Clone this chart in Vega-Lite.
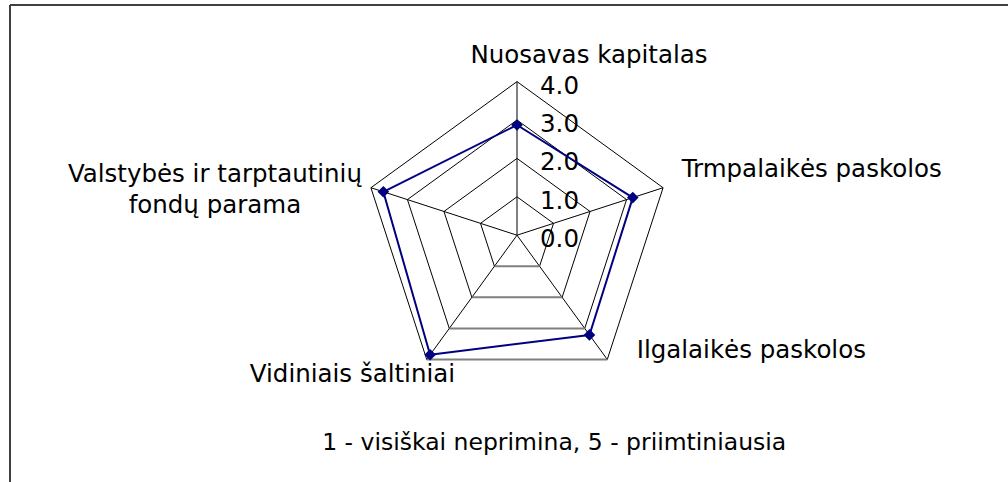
{
  "$schema": "https://vega.github.io/schema/vega-lite/v6.json",
  "width": 998,
  "height": 477,
  "autosize": {"type": "none"},
  "padding": {"left": 10, "top": 5, "right": 0, "bottom": 0},
  "background": "white",
  "config": {
    "view": {"stroke": null},
    "text": {"font": "DejaVu Sans", "fontSize": 24.5, "color": "#000000"}
  },
  "datasets": {
    "series": [
      {"kategorija": "Nuosavas kapitalas", "idx": 0, "vertinimas": 2.87},
      {"kategorija": "Trmpalaikės paskolos", "idx": 1, "vertinimas": 3.17},
      {"kategorija": "Ilgalaikės paskolos", "idx": 2, "vertinimas": 3.21},
      {"kategorija": "Vidiniais šaltiniai", "idx": 3, "vertinimas": 3.85},
      {"kategorija": "Valstybės ir tarptautinių fondų parama", "idx": 4, "vertinimas": 3.66}
    ],
    "levels": [
      {"lygis": 0}, {"lygis": 1}, {"lygis": 2}, {"lygis": 3}, {"lygis": 4}
    ],
    "grid": [
      {"lygis": 1, "idx": 0}, {"lygis": 1, "idx": 1}, {"lygis": 1, "idx": 2}, {"lygis": 1, "idx": 3}, {"lygis": 1, "idx": 4},
      {"lygis": 2, "idx": 0}, {"lygis": 2, "idx": 1}, {"lygis": 2, "idx": 2}, {"lygis": 2, "idx": 3}, {"lygis": 2, "idx": 4},
      {"lygis": 3, "idx": 0}, {"lygis": 3, "idx": 1}, {"lygis": 3, "idx": 2}, {"lygis": 3, "idx": 3}, {"lygis": 3, "idx": 4},
      {"lygis": 4, "idx": 0}, {"lygis": 4, "idx": 1}, {"lygis": 4, "idx": 2}, {"lygis": 4, "idx": 3}, {"lygis": 4, "idx": 4}
    ],
    "note": [
      {"tekstas": "1 - visiškai neprimina, 5 - priimtiniausia"}
    ]
  },
  "layer": [
    {
      "data": {"values": [{"krastas": "kairė"}]},
      "mark": {"type": "rule", "color": "#404040", "strokeWidth": 2},
      "encoding": {
        "x": {"datum": -13.203, "type": "quantitative", "scale": {"domain": [-13.203, 12.786], "nice": false, "zero": false}, "axis": null},
        "y": {"datum": -6.427, "type": "quantitative", "scale": {"domain": [-6.427, 5.995], "nice": false, "zero": false}, "axis": null},
        "y2": {"datum": 5.995}
      }
    },
    {
      "data": {"values": [{"krastas": "viršus"}]},
      "mark": {"type": "rule", "color": "#404040", "strokeWidth": 2},
      "encoding": {
        "x": {"datum": -13.203, "type": "quantitative", "scale": {"domain": [-13.203, 12.786], "nice": false, "zero": false}, "axis": null},
        "x2": {"datum": 12.786},
        "y": {"datum": 5.995, "type": "quantitative", "scale": {"domain": [-6.427, 5.995], "nice": false, "zero": false}, "axis": null}
      }
    },
    {
      "data": {"name": "series"},
      "transform": [
        {"calculate": "PI/2 - datum.idx*2*PI/5", "as": "a"},
        {"calculate": "4*cos(datum.a)", "as": "px"},
        {"calculate": "4*sin(datum.a)", "as": "py"}
      ],
      "mark": {"type": "rule", "color": "#000000", "strokeWidth": 1},
      "encoding": {
        "x": {"field": "px", "type": "quantitative", "scale": {"domain": [-13.203, 12.786], "nice": false, "zero": false}, "axis": null},
        "y": {"field": "py", "type": "quantitative", "scale": {"domain": [-6.427, 5.995], "nice": false, "zero": false}, "axis": null},
        "x2": {"datum": 0},
        "y2": {"datum": 0}
      }
    },
    {
      "data": {"name": "grid"},
      "transform": [
        {"calculate": "PI/2 - datum.idx*2*PI/5", "as": "a"},
        {"calculate": "datum.a - 2*PI/5", "as": "b"},
        {"calculate": "datum.lygis*cos(datum.a)", "as": "px"},
        {"calculate": "datum.lygis*sin(datum.a)", "as": "py"},
        {"calculate": "datum.lygis*cos(datum.b)", "as": "px2"},
        {"calculate": "datum.lygis*sin(datum.b)", "as": "py2"}
      ],
      "mark": {"type": "rule"},
      "encoding": {
        "x": {"field": "px", "type": "quantitative", "scale": {"domain": [-13.203, 12.786], "nice": false, "zero": false}, "axis": null},
        "y": {"field": "py", "type": "quantitative", "scale": {"domain": [-6.427, 5.995], "nice": false, "zero": false}, "axis": null},
        "x2": {"field": "px2"},
        "y2": {"field": "py2"},
        "color": {"condition": {"test": "datum.idx === 2", "value": "#7f7f7f"}, "value": "#000000"},
        "strokeWidth": {"condition": {"test": "datum.idx === 2", "value": 2}, "value": 1}
      }
    },
    {
      "data": {"name": "levels"},
      "mark": {"type": "text", "align": "left", "baseline": "alphabetic", "dx": 23, "dy": 12},
      "encoding": {
        "x": {"datum": 0, "type": "quantitative", "scale": {"domain": [-13.203, 12.786], "nice": false, "zero": false}, "axis": null},
        "y": {"field": "lygis", "type": "quantitative", "scale": {"domain": [-6.427, 5.995], "nice": false, "zero": false}, "axis": null},
        "text": {"field": "lygis", "type": "quantitative", "format": ".1f"}
      }
    },
    {
      "data": {"name": "series"},
      "transform": [
        {"window": [{"op": "lead", "field": "vertinimas", "as": "kitas"}, {"op": "first_value", "field": "vertinimas", "as": "pirmas"}], "sort": [{"field": "idx"}], "frame": [null, null]},
        {"calculate": "isValid(datum.kitas) ? datum.kitas : datum.pirmas", "as": "nv"},
        {"calculate": "PI/2 - datum.idx*2*PI/5", "as": "a"},
        {"calculate": "datum.a - 2*PI/5", "as": "b"},
        {"calculate": "datum.vertinimas*cos(datum.a)", "as": "px"},
        {"calculate": "datum.vertinimas*sin(datum.a)", "as": "py"},
        {"calculate": "datum.nv*cos(datum.b)", "as": "px2"},
        {"calculate": "datum.nv*sin(datum.b)", "as": "py2"}
      ],
      "mark": {"type": "rule", "color": "#000080", "strokeWidth": 2, "strokeCap": "round"},
      "encoding": {
        "x": {"field": "px", "type": "quantitative", "scale": {"domain": [-13.203, 12.786], "nice": false, "zero": false}, "axis": null},
        "y": {"field": "py", "type": "quantitative", "scale": {"domain": [-6.427, 5.995], "nice": false, "zero": false}, "axis": null},
        "x2": {"field": "px2"},
        "y2": {"field": "py2"}
      }
    },
    {
      "data": {"name": "series"},
      "transform": [
        {"calculate": "PI/2 - datum.idx*2*PI/5", "as": "a"},
        {"calculate": "datum.vertinimas*cos(datum.a)", "as": "px"},
        {"calculate": "datum.vertinimas*sin(datum.a)", "as": "py"}
      ],
      "mark": {"type": "point", "shape": "diamond", "filled": true, "size": 135, "color": "#000080", "opacity": 1},
      "encoding": {
        "x": {"field": "px", "type": "quantitative", "scale": {"domain": [-13.203, 12.786], "nice": false, "zero": false}, "axis": null},
        "y": {"field": "py", "type": "quantitative", "scale": {"domain": [-6.427, 5.995], "nice": false, "zero": false}, "axis": null}
      }
    },
    {
      "data": {"name": "series"},
      "transform": [
        {"filter": "datum.idx === 0"},
        {"calculate": "4*cos(PI/2 - datum.idx*2*PI/5)", "as": "px"},
        {"calculate": "4*sin(PI/2 - datum.idx*2*PI/5)", "as": "py"}
      ],
      "mark": {"type": "text", "align": "center", "baseline": "alphabetic", "dx": 72, "dy": -19},
      "encoding": {
        "x": {"field": "px", "type": "quantitative", "scale": {"domain": [-13.203, 12.786], "nice": false, "zero": false}, "axis": null},
        "y": {"field": "py", "type": "quantitative", "scale": {"domain": [-6.427, 5.995], "nice": false, "zero": false}, "axis": null},
        "text": {"field": "kategorija"}
      }
    },
    {
      "data": {"name": "series"},
      "transform": [
        {"filter": "datum.idx === 1"},
        {"calculate": "4*cos(PI/2 - datum.idx*2*PI/5)", "as": "px"},
        {"calculate": "4*sin(PI/2 - datum.idx*2*PI/5)", "as": "py"}
      ],
      "mark": {"type": "text", "align": "left", "baseline": "alphabetic", "dx": 18.6, "dy": -11},
      "encoding": {
        "x": {"field": "px", "type": "quantitative", "scale": {"domain": [-13.203, 12.786], "nice": false, "zero": false}, "axis": null},
        "y": {"field": "py", "type": "quantitative", "scale": {"domain": [-6.427, 5.995], "nice": false, "zero": false}, "axis": null},
        "text": {"field": "kategorija"}
      }
    },
    {
      "data": {"name": "series"},
      "transform": [
        {"filter": "datum.idx === 2"},
        {"calculate": "4*cos(PI/2 - datum.idx*2*PI/5)", "as": "px"},
        {"calculate": "4*sin(PI/2 - datum.idx*2*PI/5)", "as": "py"}
      ],
      "mark": {"type": "text", "align": "left", "baseline": "alphabetic", "dx": 29.4, "dy": -1.2},
      "encoding": {
        "x": {"field": "px", "type": "quantitative", "scale": {"domain": [-13.203, 12.786], "nice": false, "zero": false}, "axis": null},
        "y": {"field": "py", "type": "quantitative", "scale": {"domain": [-6.427, 5.995], "nice": false, "zero": false}, "axis": null},
        "text": {"field": "kategorija"}
      }
    },
    {
      "data": {"name": "series"},
      "transform": [
        {"filter": "datum.idx === 3"},
        {"calculate": "4*cos(PI/2 - datum.idx*2*PI/5)", "as": "px"},
        {"calculate": "4*sin(PI/2 - datum.idx*2*PI/5)", "as": "py"}
      ],
      "mark": {"type": "text", "align": "center", "baseline": "alphabetic", "dx": -74.3, "dy": 22.2},
      "encoding": {
        "x": {"field": "px", "type": "quantitative", "scale": {"domain": [-13.203, 12.786], "nice": false, "zero": false}, "axis": null},
        "y": {"field": "py", "type": "quantitative", "scale": {"domain": [-6.427, 5.995], "nice": false, "zero": false}, "axis": null},
        "text": {"field": "kategorija"}
      }
    },
    {
      "data": {"name": "series"},
      "transform": [
        {"filter": "datum.idx === 4"},
        {"calculate": "4*cos(PI/2 - datum.idx*2*PI/5)", "as": "px"},
        {"calculate": "4*sin(PI/2 - datum.idx*2*PI/5)", "as": "py"}
      ],
      "mark": {"type": "text", "align": "center", "baseline": "alphabetic", "dx": -156, "dy": -6, "lineHeight": 31.6},
      "encoding": {
        "x": {"field": "px", "type": "quantitative", "scale": {"domain": [-13.203, 12.786], "nice": false, "zero": false}, "axis": null},
        "y": {"field": "py", "type": "quantitative", "scale": {"domain": [-6.427, 5.995], "nice": false, "zero": false}, "axis": null},
        "text": {"value": ["Valstybės ir tarptautinių", "fondų parama"]}
      }
    },
    {
      "data": {"name": "note"},
      "mark": {"type": "text", "align": "center", "baseline": "alphabetic", "fontSize": 23.5},
      "encoding": {
        "x": {"datum": 0.969, "type": "quantitative", "scale": {"domain": [-13.203, 12.786], "nice": false, "zero": false}, "axis": null},
        "y": {"datum": -5.594, "type": "quantitative", "scale": {"domain": [-6.427, 5.995], "nice": false, "zero": false}, "axis": null},
        "text": {"field": "tekstas"}
      }
    }
  ]
}
